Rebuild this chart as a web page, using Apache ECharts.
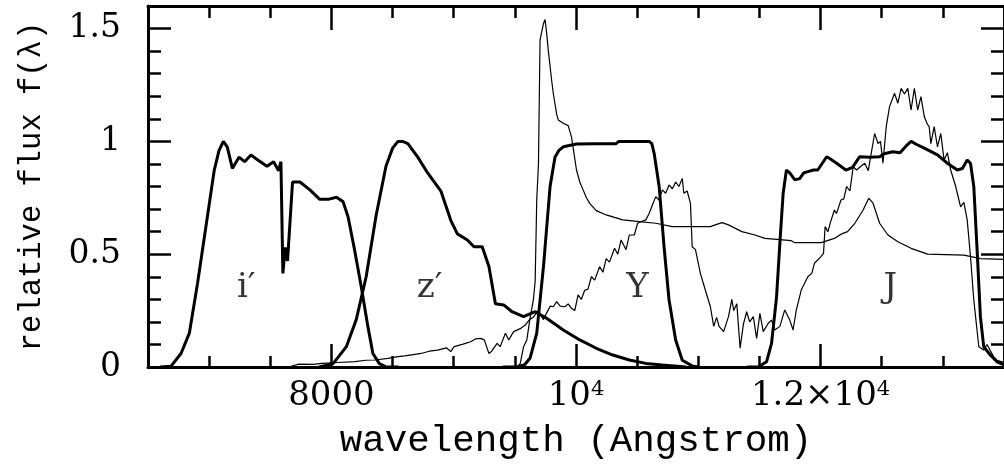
<!DOCTYPE html>
<html>
<head>
<meta charset="utf-8">
<script src="https://cdn.jsdelivr.net/npm/echarts@6/dist/echarts.min.js"></script>
<style>
html,body{margin:0;padding:0;background:#fff;}
#chart{width:1004px;height:474px;}
</style>
</head>
<body>
<div id="chart"></div>
<script>
// ---- data: [wavelength (Angstrom), relative flux] ----
const iBand = [[6600,0],[6687,0.003],[6770,0.06],[6838,0.15],[6905,0.37],[6973,0.62],[7041,0.87],[7081,0.96],[7116,1.0],[7148,0.976],[7190,0.88],[7244,0.93],[7290,0.91],[7342,0.94],[7392,0.92],[7473,0.89],[7527,0.91],[7568,0.87],[7587,0.91],[7603,0.415],[7622,0.53],[7641,0.47],[7682,0.82],[7743,0.82],[7824,0.785],[7905,0.743],[7973,0.743],[8041,0.752],[8095,0.733],[8136,0.666],[8189,0.52],[8244,0.356],[8298,0.18],[8339,0.06],[8392,0.015],[8450,0],[8550,0]];
const zBand = [[7900,0],[8014,0.015],[8122,0.09],[8203,0.21],[8284,0.40],[8365,0.67],[8446,0.89],[8500,0.97],[8544,1.0],[8582,1.0],[8625,0.99],[8706,0.93],[8787,0.86],[8895,0.78],[8976,0.65],[9030,0.59],[9112,0.563],[9166,0.533],[9233,0.533],[9288,0.445],[9341,0.28],[9409,0.275],[9477,0.245],[9571,0.223],[9666,0.245],[9760,0.216],[9896,0.164],[10031,0.12],[10166,0.083],[10301,0.053],[10436,0.031],[10571,0.016],[10706,0.009],[10900,0]];
const yBand = [[9400,0],[9517,0],[9580,0.01],[9625,0.04],[9679,0.15],[9734,0.445],[9788,0.8],[9828,0.93],[9860,0.96],[9896,0.976],[10004,0.988],[10166,0.99],[10328,0.99],[10350,1.0],[10598,1.0],[10620,0.99],[10639,0.947],[10680,0.8],[10720,0.533],[10761,0.297],[10815,0.12],[10869,0.03],[10950,0.005],[11000,0]];
const jBand = [[11400,0],[11490,0],[11558,0.023],[11599,0.105],[11640,0.31],[11667,0.548],[11694,0.77],[11721,0.873],[11748,0.86],[11788,0.83],[11830,0.835],[11861,0.86],[11896,0.866],[11942,0.873],[11977,0.873],[12050,0.932],[12072,0.925],[12131,0.903],[12207,0.873],[12261,0.885],[12320,0.932],[12400,0.93],[12483,0.932],[12520,0.945],[12590,0.954],[12650,0.95],[12700,0.98],[12740,1.0],[12790,0.985],[12848,0.97],[12956,0.94],[13037,0.903],[13118,0.873],[13160,0.88],[13199,0.917],[13226,0.903],[13253,0.80],[13280,0.52],[13307,0.223],[13334,0.09],[13388,0.053],[13443,0.023],[13500,0.01]];
const quasarSpec = [[6500,0],[9517,0],[9544,0.015],[9571,0.09],[9598,0.12],[9625,0.22],[9652,0.30],[9666,0.38],[9679,0.74],[9693,0.9],[9706,1.45],[9733,1.52],[9747,1.54],[9760,1.48],[9774,1.40],[9801,1.27],[9815,1.21],[9842,1.12],[9855,1.095],[9896,1.08],[9936,1.07],[9963,1.02],[9977,0.97],[10004,0.873],[10031,0.82],[10058,0.785],[10085,0.75],[10112,0.725],[10166,0.693],[10247,0.674],[10382,0.652],[10517,0.644],[10652,0.637],[10787,0.622],[10977,0.622],[11099,0.622],[11150,0.632],[11194,0.64],[11247,0.63],[11356,0.60],[11464,0.585],[11545,0.57],[11761,0.56],[11788,0.551],[12005,0.551],[12113,0.57],[12172,0.59],[12221,0.60],[12280,0.637],[12348,0.696],[12394,0.748],[12429,0.726],[12483,0.637],[12551,0.585],[12632,0.555],[12740,0.526],[12875,0.50],[13173,0.496],[13308,0.48],[13500,0.477]];
const dwarfSpec = [[7650,0],[7733,0.013],[7850,0.012],[7922,0.016],[8050,0.02],[8193,0.024],[8280,0.03],[8355,0.031],[8463,0.038],[8530,0.045],[8598,0.049],[8670,0.055],[8733,0.06],[8800,0.07],[8868,0.075],[8940,0.085],[8976,0.068],[9003,0.09],[9070,0.10],[9139,0.112],[9180,0.125],[9220,0.127],[9250,0.12],[9288,0.06],[9310,0.07],[9355,0.105],[9380,0.09],[9423,0.15],[9450,0.12],[9490,0.157],[9544,0.17],[9585,0.186],[9620,0.21],[9650,0.22],[9690,0.25],[9734,0.21],[9760,0.24],[9790,0.27],[9815,0.267],[9842,0.29],[9870,0.27],[9909,0.267],[9936,0.28],[9963,0.26],[9990,0.25],[10017,0.32],[10044,0.30],[10071,0.34],[10098,0.345],[10126,0.40],[10153,0.385],[10193,0.445],[10220,0.42],[10247,0.48],[10274,0.465],[10315,0.526],[10342,0.50],[10369,0.563],[10409,0.52],[10436,0.585],[10477,0.585],[10504,0.637],[10531,0.644],[10571,0.652],[10598,0.68],[10625,0.718],[10652,0.755],[10679,0.74],[10706,0.785],[10733,0.77],[10761,0.807],[10788,0.79],[10815,0.82],[10842,0.80],[10869,0.836],[10882,0.77],[10909,0.78],[10936,0.725],[10950,0.533],[10977,0.52],[11017,0.415],[11058,0.34],[11099,0.267],[11126,0.18],[11150,0.22],[11170,0.18],[11207,0.157],[11247,0.223],[11274,0.30],[11290,0.25],[11315,0.28],[11342,0.083],[11369,0.19],[11396,0.245],[11420,0.20],[11450,0.223],[11477,0.127],[11504,0.238],[11531,0.157],[11572,0.194],[11599,0.208],[11626,0.164],[11667,0.18],[11707,0.253],[11748,0.208],[11775,0.164],[11802,0.253],[11842,0.341],[11896,0.40],[11928,0.415],[11950,0.46],[12005,0.49],[12024,0.504],[12037,0.622],[12060,0.60],[12080,0.64],[12113,0.696],[12130,0.68],[12167,0.74],[12190,0.745],[12213,0.80],[12240,0.78],[12267,0.888],[12294,0.873],[12330,0.89],[12361,0.903],[12390,0.87],[12442,1.035],[12470,0.99],[12490,1.0],[12510,0.903],[12537,1.065],[12564,1.154],[12605,1.213],[12632,1.169],[12659,1.235],[12686,1.21],[12713,1.235],[12740,1.139],[12767,1.235],[12794,1.139],[12821,1.198],[12848,1.11],[12870,1.08],[12888,1.065],[12902,0.99],[12929,1.065],[12956,0.976],[12983,1.035],[13010,0.917],[13037,0.95],[13064,0.873],[13105,0.80],[13145,0.71],[13172,0.73],[13199,0.652],[13226,0.49],[13253,0.297],[13294,0.09],[13334,0.075],[13361,0.1],[13415,0.046],[13443,0.03],[13500,0.02]];
const bandLabels = [[7303,0.35,'i′'],[8803,0.35,'z′'],[10503,0.35,'Y'],[12571,0.35,'J']];
const xMajorTicks = [8000,10000,12000];
const xTickLabels = ['8000','10{s|4}','1.2×10{s|4}'];
const xMinorTicks = [7000,7500,8500,9000,9500,10500,11000,11500,12500,13000];
const yMajorTicks = [0,0.5,1,1.5];
const yTickLabels = ['0','0.5','1','1.5'];
const yMinorTicks = [0.1,0.2,0.3,0.4,0.6,0.7,0.8,0.9,1.1,1.2,1.3,1.4];

const chart = echarts.init(document.getElementById('chart'), null, {renderer:'canvas'});
const lineCol = '#000';
function xAx(pos, ticks, len, main){
  return {
    type:'value', position:pos, min:6500, max:13500,
    axisLine:{show:main, onZero:false, lineStyle:{color:lineCol,width:3}},
    axisTick:{show:true, inside:true, length:len, customValues:ticks, lineStyle:{color:lineCol,width:2.5}},
    axisLabel:{show:false}, splitLine:{show:false}
  };
}
function yAx(pos, ticks, len, main){
  return {
    type:'value', position:pos, min:0, max:1.6,
    axisLine:{show:main, onZero:false, lineStyle:{color:lineCol,width:3}},
    axisTick:{show:true, inside:true, length:len, customValues:ticks, lineStyle:{color:lineCol,width:2.5}},
    axisLabel:{show:false}, splitLine:{show:false}
  };
}
const xBottom = xAx('bottom', xMajorTicks, 23, true);
xBottom.axisLabel = {
  show:true, customValues:xMajorTicks, margin:12, color:'#000',
  fontFamily:'DejaVu Serif', fontSize:34,
  formatter:function(v){ const i = xMajorTicks.indexOf(v); return i>=0 ? xTickLabels[i] : ''; },
  rich:{ s:{fontFamily:'DejaVu Serif', fontSize:21, verticalAlign:'top', color:'#000'} }
};
xBottom.name = 'wavelength (Angstrom)';
xBottom.nameLocation = 'middle';
xBottom.nameGap = 55;
xBottom.nameTextStyle = {fontFamily:'Liberation Mono', fontSize:37.5, color:'#000'};
const yLeft = yAx('left', yMajorTicks, 23, true);
yLeft.axisLabel = {
  show:true, customValues:yMajorTicks, margin:27, color:'#000',
  fontFamily:'DejaVu Serif', fontSize:33,
  formatter:function(v){ const i = yMajorTicks.findIndex(t=>Math.abs(t-v)<1e-9); return i>=0 ? yTickLabels[i] : ''; }
};
yLeft.name = 'relative flux f(λ)';
yLeft.nameLocation = 'middle';
yLeft.nameGap = 101;
yLeft.nameTextStyle = {fontFamily:'Liberation Mono', fontSize:30.5, color:'#000'};

function lineSeries(name, data, w){
  return {name:name, type:'line', data:data, showSymbol:false, symbol:'none', smooth:false,
    xAxisIndex:0, yAxisIndex:0, lineStyle:{color:lineCol, width:w}, silent:true, z:w>2?3:2};
}

chart.setOption({
  animation:false,
  backgroundColor:'#fff',
  grid:{left:148, right:-7, top:6, bottom:107, containLabel:false},
  xAxis:[xBottom, xAx('bottom', xMinorTicks, 11, false), xAx('top', xMajorTicks, 24, true), xAx('top', xMinorTicks, 12, false)],
  yAxis:[yLeft, yAx('left', yMinorTicks, 13, false), yAx('right', yMajorTicks, 23, true), yAx('right', yMinorTicks, 13, false)],
  series:[
    lineSeries('quasar', quasarSpec, 1.2),
    lineSeries('dwarf', dwarfSpec, 1.2),
    lineSeries("i'", iBand, 3),
    lineSeries("z'", zBand, 3),
    lineSeries('Y', yBand, 3),
    lineSeries('J', jBand, 3),
    {type:'scatter', data:bandLabels, symbolSize:0, xAxisIndex:0, yAxisIndex:0, silent:true, z:5,
     label:{show:true, position:'inside', color:'#000', fontFamily:'DejaVu Serif', fontSize:34,
       formatter:function(p){return p.data[2];}}}
  ]
});
</script>
</body>
</html>
